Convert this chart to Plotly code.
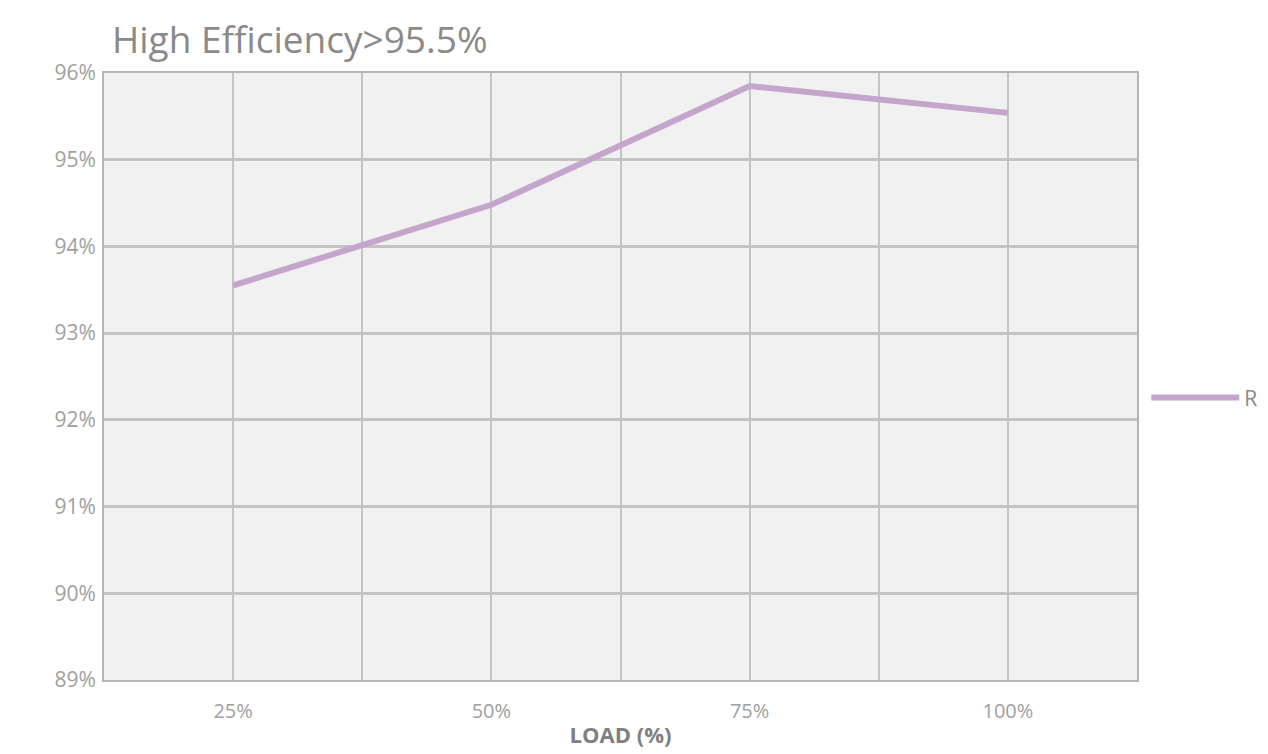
import plotly.graph_objects as go

load_pct = [25, 50, 75, 100]
efficiency = [93.55, 94.48, 95.85, 95.54]
series_name = "R"
y_ticks = [89, 90, 91, 92, 93, 94, 95, 96]
y_labels = ["89%", "90%", "91%", "92%", "93%", "94%", "95%", "96%"]
x_ticks = [25, 50, 75, 100]
x_labels = ["25%", "50%", "75%", "100%"]

fig = go.Figure()
fig.add_trace(go.Scatter(
    x=load_pct, y=efficiency, mode="lines", name=series_name,
    line=dict(color="#c4a6cc", width=6),
))

fig.update_layout(
    width=1268, height=754,
    paper_bgcolor="white", plot_bgcolor="#f1f1f1",
    margin=dict(l=96, r=139, t=65, b=82),
    font=dict(family="Open Sans", color="#a0a0a0", size=18),
    title=dict(text="High Efficiency>95.5%", x=0.082, xanchor="left", y=0.958, yanchor="middle",
               font=dict(size=37, color="#8a8a8a", family="Open Sans")),
    showlegend=True,
    legend=dict(x=1.009, y=0.465, xanchor="left", yanchor="middle", itemwidth=88,
                font=dict(size=21, color="#888888"), bgcolor="rgba(0,0,0,0)"),
    xaxis=dict(
        range=[12.5, 112.5], tickvals=x_ticks, ticktext=x_labels,
        tickfont=dict(size=20),
        showgrid=True, gridcolor="#c4c4c4", gridwidth=2,
        minor=dict(dtick=12.5, tick0=0, showgrid=True, gridcolor="#c4c4c4", gridwidth=2),
        showline=True, linecolor="#b5b5b5", linewidth=2, mirror=True,
        zeroline=False, ticks="", ticklabelstandoff=12,
        title=dict(text="<b>LOAD (%)</b>", font=dict(size=22, color="#808080"), standoff=5),
    ),
    yaxis=dict(
        range=[89, 96], tickvals=y_ticks, ticktext=y_labels,
        tickfont=dict(size=21),
        showgrid=True, gridcolor="#c4c4c4", gridwidth=3,
        showline=True, linecolor="#b5b5b5", linewidth=2, mirror=True,
        zeroline=False, ticks="", ticklabelstandoff=2,
    ),
)

fig.write_html("out.html")
